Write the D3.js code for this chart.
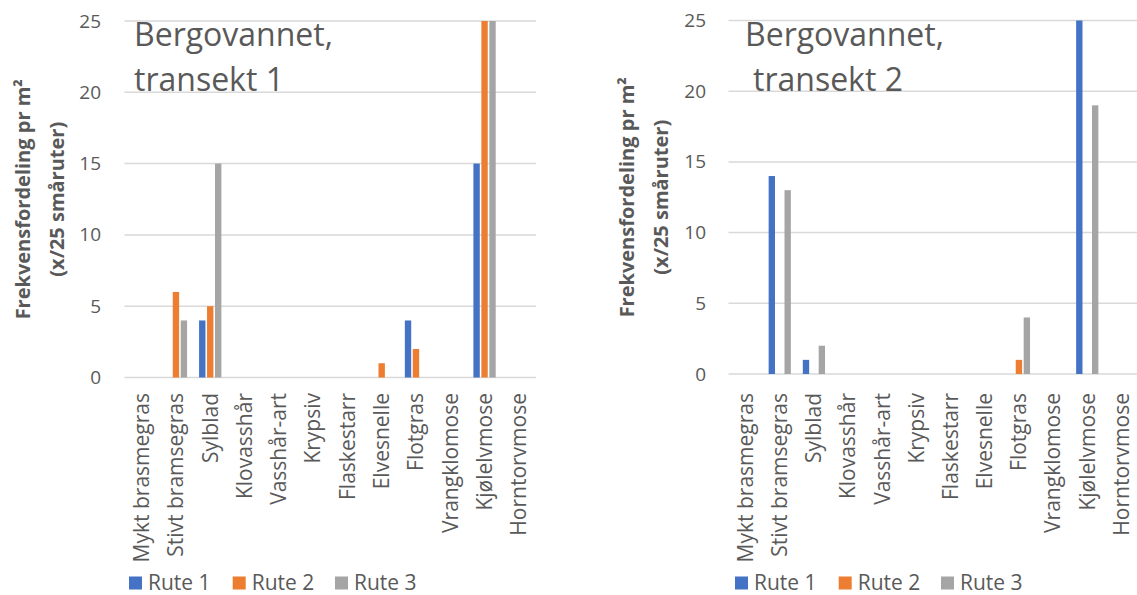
<!DOCTYPE html>
<html><head><meta charset="utf-8">
<script src="https://cdn.jsdelivr.net/npm/d3@7"></script>
<style>
body{margin:0;background:#fff;}
svg{display:block;}
text{font-family:"Open Sans","Noto Sans",sans-serif;fill:#595959;}
</style></head>
<body>
<svg id="chart" width="1137" height="595"></svg>
<script>
const categories = ["Mykt brasmegras","Stivt bramsegras","Sylblad","Klovasshår","Vasshår-art","Krypsiv","Flaskestarr","Elvesnelle","Flotgras","Vrangklomose","Kjølelvmose","Horntorvmose"];
const series = ["Rute 1","Rute 2","Rute 3"];
const colors = ["#4472C4","#ED7D31","#A5A5A5"];
const yTicks = [0,5,10,15,20,25];
// Transekt 1
const t1Rute1 = [0,0,4,0,0,0,0,0,4,0,15,0];
const t1Rute2 = [0,6,5,0,0,0,0,1,2,0,25,0];
const t1Rute3 = [0,4,15,0,0,0,0,0,0,0,25,0];
// Transekt 2
const t2Rute1 = [0,14,1,0,0,0,0,0,0,0,25,0];
const t2Rute2 = [0,0,0,0,0,0,0,0,1,0,0,0];
const t2Rute3 = [0,13,2,0,0,0,0,0,4,0,19,0];
const titles1 = ["Bergovannet,","transekt 1"];
const titles2 = ["Bergovannet,","transekt 2"];
const yTitle = ["Frekvensfordeling pr m²","(x/25 småruter)"];

const svg = d3.select("#chart");

function panel(cfg){
  const g = svg.append("g");
  const x0 = d3.scaleBand().domain(categories).range([cfg.left, cfg.right]).paddingInner(0.35).paddingOuter(0.175);
  const x1 = d3.scaleBand().domain(series).range([0, x0.bandwidth()]).paddingInner(0.2);
  const y = d3.scaleLinear().domain([0,25]).range([cfg.bottom, cfg.top]);

  // gridlines
  g.append("g").selectAll("line").data(yTicks).join("line")
    .attr("x1", cfg.left).attr("x2", cfg.right)
    .attr("y1", d=>y(d)).attr("y2", d=>y(d))
    .attr("stroke","#d9d9d9").attr("stroke-width",1.5);

  // y axis tick labels
  const ya = d3.axisLeft(y).tickValues(yTicks).tickSize(0).tickPadding(0);
  const yg = g.append("g").attr("transform",`translate(${cfg.tickRight},0)`).call(ya);
  yg.select(".domain").remove();
  yg.selectAll("text").style("font-size","19px").attr("fill","#595959").style("font-family",'"Open Sans",sans-serif');

  // bars
  series.forEach((s,i)=>{
    const vals = cfg.values[i];
    g.append("g").selectAll("rect").data(vals.map((v,j)=>({v, cat:categories[j]})).filter(e=>e.v>0)).join("rect")
      .attr("x", e=>x0(e.cat)+x1(s))
      .attr("width", x1.bandwidth())
      .attr("y", e=>y(e.v))
      .attr("height", e=>y(0)-y(e.v))
      .attr("fill", colors[i]);
  });

  // x axis category labels
  const xa = d3.axisBottom(x0).tickSize(0).tickPadding(0);
  const xg = g.append("g").attr("transform",`translate(0,${cfg.labelTop})`).call(xa);
  xg.select(".domain").remove();
  xg.selectAll("text")
    .style("font-size","21px").attr("fill","#595959").style("font-family",'"Open Sans",sans-serif')
    .attr("transform","rotate(-90)")
    .attr("text-anchor","end")
    .attr("x",0).attr("y",0).attr("dy","0.35em");

  // y axis title
  const ty = g.append("text")
    .attr("transform",`translate(${cfg.titleX},${(cfg.top+cfg.bottom)/2}) rotate(-90)`)
    .attr("text-anchor","middle")
    .style("font-size","20px").style("font-weight","bold");
  ty.append("tspan").attr("x",0).attr("y",0).text(yTitle[0]);
  ty.append("tspan").attr("x",0).attr("y",34).text(yTitle[1]);

  // chart title
  cfg.titles.forEach((t,i)=>{
    g.append("text").attr("x",cfg.titleLeft[i]).attr("y",46+i*45)
      .style("font-size","32px").text(t);
  });

  // legend
  const lg = g.append("g").attr("transform",`translate(${cfg.legendX},${cfg.legendY})`);
  const offs = [0,103.7,206];
  series.forEach((s,i)=>{
    lg.append("rect").attr("x",offs[i]).attr("y",-13).attr("width",13).attr("height",13).attr("fill",colors[i]);
    lg.append("text").attr("x",offs[i]+19).attr("y",0).style("font-size","21px").text(s);
  });
}

panel({left:124.5, right:536, top:21, bottom:377.5, tickRight:101, labelTop:393,
  titleX:30, titleLeft:[134,134], titles:titles1, legendX:129, legendY:589.5,
  values:[t1Rute1,t1Rute2,t1Rute3]});
panel({left:728.5, right:1138.5, top:20.5, bottom:374, tickRight:706, labelTop:393,
  titleX:634, titleLeft:[745,753], titles:titles2, legendX:735, legendY:589.5,
  values:[t2Rute1,t2Rute2,t2Rute3]});
</script>
</body></html>
